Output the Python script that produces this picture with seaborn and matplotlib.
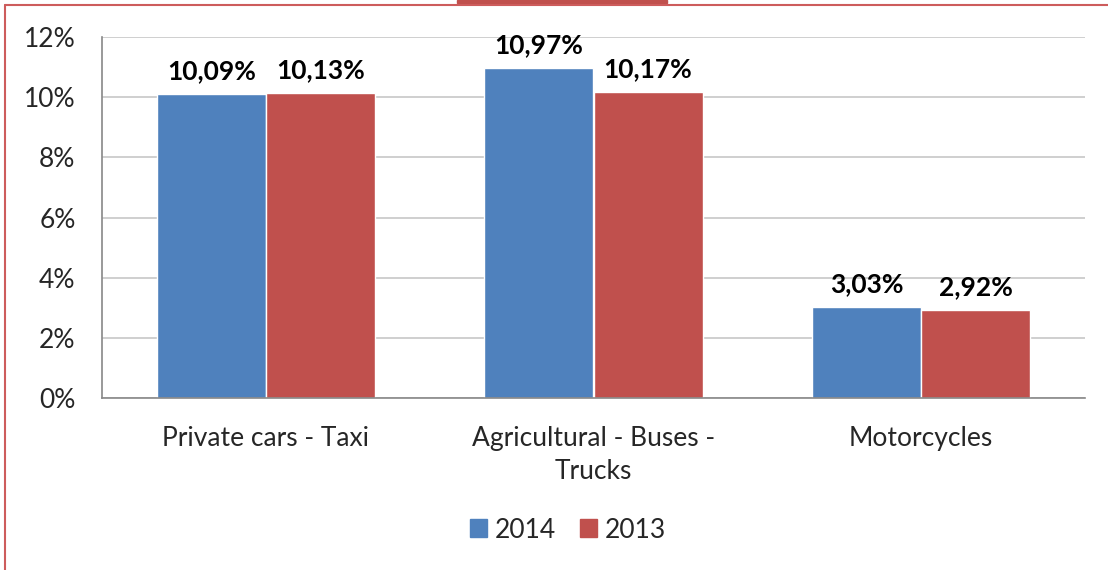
import matplotlib
matplotlib.use("Agg")
import matplotlib.pyplot as plt
import matplotlib.patches as mpatches
from matplotlib.lines import Line2D
import pandas as pd
import seaborn as sns

# Data
categories = ["Private cars - Taxi", "Agricultural - Buses -\nTrucks", "Motorcycles"]
years = ["2014", "2013"]
values_2014 = [10.09, 10.97, 3.03]
values_2013 = [10.13, 10.17, 2.92]
y_ticks = [0, 2, 4, 6, 8, 10, 12]

df = pd.DataFrame({
    "category": categories * 2,
    "year": [years[0]] * 3 + [years[1]] * 3,
    "value": [v / 100 for v in values_2014 + values_2013],
})

sns.set_theme(style="white")
plt.rcParams["font.family"] = ["Lato", "DejaVu Sans"]

colors = {"2014": "#4F81BD", "2013": "#C0504D"}
fs = 19

fig = plt.figure(figsize=(11.08, 5.70), dpi=100)
ax = fig.add_axes([102 / 1108, 1 - 398 / 570, (1085 - 102) / 1108, (398 - 37) / 570])

sns.barplot(data=df, x="category", y="value", hue="year", hue_order=years,
            order=categories, palette=colors, width=0.666, gap=0, ax=ax,
            legend=False, saturation=1)

# data labels
for container, vals in zip(ax.containers, [values_2014, values_2013]):
    labels = [f"{v:.2f}%".replace(".", ",") for v in vals]
    ax.bar_label(container, labels=labels, padding=8, fontsize=fs,
                 fontweight="bold", color="black")

ax.set_ylim(0, 0.12)
ax.set_xlim(-0.5, 2.5)
ax.set_yticks([t / 100 for t in y_ticks])
ax.set_yticklabels([f"{t}%" for t in y_ticks], fontsize=fs)
ax.yaxis.grid(True, color="#cccccc", linewidth=1.3)
ax.set_axisbelow(True)

ax.set_xticks(range(len(categories)))
ax.set_xticklabels(categories, fontsize=fs, linespacing=1.4)
ax.set_xticks([-0.5, 0.5, 1.5, 2.5], minor=True)
ax.tick_params(axis="x", which="major", length=0, pad=20)
ax.tick_params(axis="x", which="minor", length=7, width=1.2, color="#888888", direction="out")
ax.tick_params(axis="y", length=5, width=1.2, color="#888888", direction="out", pad=14)
ax.set_xlabel("")
ax.set_ylabel("")

for side in ["top", "right"]:
    ax.spines[side].set_visible(False)
for side in ["left", "bottom"]:
    ax.spines[side].set_color("#888888")
    ax.spines[side].set_linewidth(1.2)

handles = [mpatches.Patch(color=colors[y], label=y) for y in years]
fig.legend(handles=handles, loc="center", bbox_to_anchor=(568 / 1108, 1 - 530 / 570),
           ncol=2, frameon=False, fontsize=fs, handlelength=0.65, handleheight=0.65,
           handletextpad=0.3, columnspacing=0.9)

# red frame remains around the chart
border = "#CD5C5C"
fig.add_artist(Line2D([5 / 1108, 1], [1 - 5 / 570, 1 - 5 / 570], color=border, lw=1.5))
fig.add_artist(Line2D([5 / 1108, 5 / 1108], [0, 1 - 5 / 570], color=border, lw=1.5))
fig.add_artist(mpatches.Rectangle((457 / 1108, 1 - 3 / 570), 210 / 1108, 3 / 570,
                                  color="#C0504D", transform=fig.transFigure))

fig.savefig("out.png", dpi=100)
